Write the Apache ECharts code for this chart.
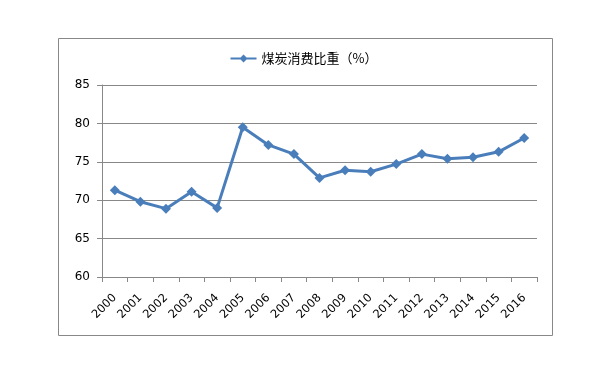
<!DOCTYPE html>
<html><head><meta charset="utf-8">
<script src="https://cdn.jsdelivr.net/npm/echarts@6/dist/echarts.min.js"></script>
<style>html,body{margin:0;padding:0;background:#fff}#c{width:608px;height:372px}</style>
</head><body><div id="c"></div>
<script>
const years = ['2000','2001','2002','2003','2004','2005','2006','2007','2008','2009','2010','2011','2012','2013','2014','2015','2016'];
const coalShare = [71.3, 69.8, 68.9, 71.1, 69.0, 79.5, 77.2, 76.0, 72.9, 73.9, 73.7, 74.7, 76.0, 75.4, 75.6, 76.3, 78.1];
const seriesName = '煤炭消费比重（%）';
const yTicks = {min: 60, max: 85, interval: 5};

const chart = echarts.init(document.getElementById('c'));
chart.setOption({
  animation: false,
  graphic: [{type: 'rect', shape: {x: 58.5, y: 38.5, width: 494, height: 297}, style: {fill: 'none', stroke: '#888', lineWidth: 1}, z: -1}],
  legend: {top: 47, left: 'center', itemWidth: 26, itemHeight: 8, itemGap: 4,
    textStyle: {fontFamily: 'Noto Sans CJK SC', fontSize: 13, color: '#000'},
    data: [{name: seriesName, icon: 'path://M0,3L10,3L13,0L16,3L26,3L26,5L16,5L13,8L10,5L0,5Z'}]},
  grid: {left: 102, right: 71, top: 85, bottom: 95},
  xAxis: {type: 'category', data: years, boundaryGap: true,
    axisLine: {lineStyle: {color: '#888'}},
    axisTick: {show: true, length: 5, lineStyle: {color: '#888'}},
    axisLabel: {rotate: 45, color: '#000', fontSize: 11.5, fontFamily: 'DejaVu Sans', margin: 19}},
  yAxis: {type: 'value', min: yTicks.min, max: yTicks.max, interval: yTicks.interval,
    axisLine: {show: true, lineStyle: {color: '#888'}},
    axisTick: {show: true, length: 5, lineStyle: {color: '#888'}},
    splitLine: {lineStyle: {color: '#888'}},
    axisLabel: {color: '#000', fontSize: 12, fontFamily: 'DejaVu Sans', margin: 12}},
  series: [{name: seriesName, type: 'line', data: coalShare,
    symbol: 'diamond', symbolSize: 10,
    itemStyle: {color: '#4a7ebb'},
    lineStyle: {color: '#4a7ebb', width: 3}}]
});
</script></body></html>
